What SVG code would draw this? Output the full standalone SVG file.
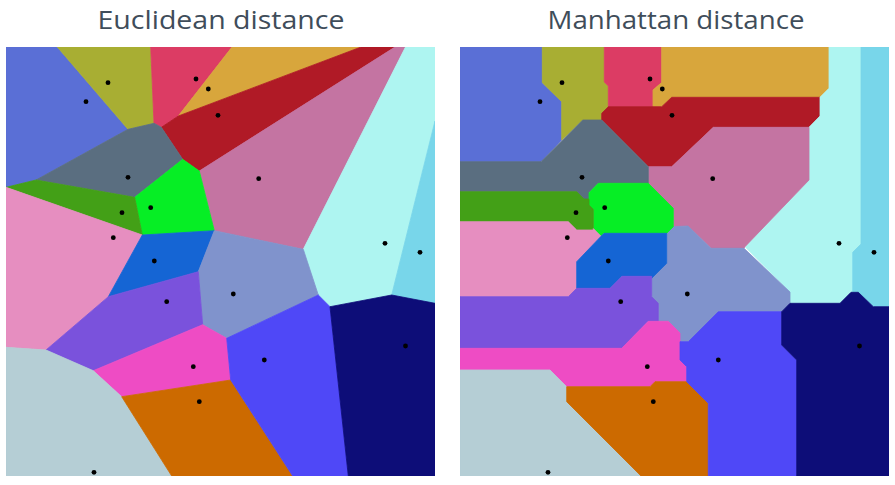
<svg xmlns="http://www.w3.org/2000/svg" width="895" height="485" viewBox="0 0 895 485">
<style>
.t{font-family:"Open Sans","Noto Sans","Liberation Sans",sans-serif;font-size:26px;fill:#3f4d5a;text-anchor:middle}
polygon{stroke-width:0.8;stroke-linejoin:round}
.c1{fill:#5a6fd6;stroke:#5a6fd6}.c2{fill:#a8ae33;stroke:#a8ae33}.c3{fill:#dc3c64;stroke:#dc3c64}
.c4{fill:#d8a63c;stroke:#d8a63c}.c5{fill:#b01a26;stroke:#b01a26}.c6{fill:#5a6e80;stroke:#5a6e80}
.c7{fill:#06ee25;stroke:#06ee25}.c8{fill:#43a017;stroke:#43a017}.c9{fill:#e68ec0;stroke:#e68ec0}
.c10{fill:#1565d4;stroke:#1565d4}.c11{fill:#c474a2;stroke:#c474a2}.c12{fill:#aef5f1;stroke:#aef5f1}
.c13{fill:#78d6ea;stroke:#78d6ea}.c14{fill:#7a52dc;stroke:#7a52dc}.c15{fill:#ee4cc4;stroke:#ee4cc4}
.c16{fill:#cc6a00;stroke:#cc6a00}.c17{fill:#b5ced5;stroke:#b5ced5}.c18{fill:#8093cc;stroke:#8093cc}
.c19{fill:#4f48f7;stroke:#4f48f7}.c20{fill:#0d0d78;stroke:#0d0d78}
circle{fill:#000}
</style>
<defs>
<clipPath id="cl"><rect x="6" y="47" width="429" height="429"/></clipPath>
<clipPath id="cr"><rect x="460" y="47" width="429" height="429"/></clipPath>
<g id="seeds">
<circle cx="108" cy="82.7" r="2.4"/><circle cx="86" cy="101.7" r="2.4"/><circle cx="196" cy="79" r="2.4"/>
<circle cx="208.3" cy="89" r="2.4"/><circle cx="218" cy="115.3" r="2.4"/><circle cx="128" cy="177.3" r="2.4"/>
<circle cx="150.7" cy="207.7" r="2.4"/><circle cx="122" cy="212.7" r="2.4"/><circle cx="113.3" cy="237.7" r="2.4"/>
<circle cx="154.3" cy="261" r="2.4"/><circle cx="258.7" cy="178.7" r="2.4"/><circle cx="385" cy="243.3" r="2.4"/>
<circle cx="420" cy="252.3" r="2.4"/><circle cx="166.7" cy="301.7" r="2.4"/><circle cx="193.3" cy="366.7" r="2.4"/>
<circle cx="199.3" cy="401.7" r="2.4"/><circle cx="94" cy="472.3" r="2.4"/><circle cx="233.3" cy="294" r="2.4"/>
<circle cx="264.3" cy="360" r="2.4"/><circle cx="405.5" cy="346" r="2.4"/>
</g>
</defs>
<text class="t" x="221" y="29" textLength="247" lengthAdjust="spacingAndGlyphs">Euclidean distance</text>
<text class="t" x="676" y="29" textLength="257" lengthAdjust="spacingAndGlyphs">Manhattan distance</text>
<g id="euclidean" clip-path="url(#cl)">
<polygon class="c1" points="6,47 57.3,47 128,129.3 36,180 6,187.3"/>
<polygon class="c2" points="57.3,47 150.7,47 154,123.3 128,129.3"/>
<polygon class="c3" points="150.7,47 232,47 178.3,116 161.3,127.3 154,123.3"/>
<polygon class="c4" points="232,47 361,47 178.3,116"/>
<polygon class="c5" points="361,47 395,47 199.3,171 182.7,159.3 161.3,127.3 178.3,116"/>
<polygon class="c11" points="395,47 405.5,47 303.3,249.3 214.3,230.7 199.3,171"/>
<polygon class="c12" points="405.5,47 435,47 435,121 391.7,295 330,306.7 318.3,295 303.3,249.3"/>
<polygon class="c13" points="435,121 435,303.3 391.7,295"/>
<polygon class="c6" points="36,180 128,129.3 154,123.3 161.3,127.3 182.7,159.3 134.7,197.3"/>
<polygon class="c7" points="182.7,159.3 199.3,171 214.3,230.7 142.3,235 134.7,197.3"/>
<polygon class="c8" points="6,187.3 36,180 134.7,197.3 142.3,235"/>
<polygon class="c9" points="6,187.3 142.3,235 108.3,296.7 46,350 6,347.3"/>
<polygon class="c10" points="142.3,235 214.3,230.7 198.3,271.7 108.3,296.7"/>
<polygon class="c18" points="214.3,230.7 303.3,249.3 318.3,295 226.7,338.3 202.7,324.7 198.3,271.7"/>
<polygon class="c14" points="108.3,296.7 198.3,271.7 202.7,324.7 93.3,370.7 46,350"/>
<polygon class="c15" points="93.3,370.7 202.7,324.7 226.7,338.3 230.7,380 121.7,396.7"/>
<polygon class="c17" points="6,347.3 46,350 93.3,370.7 121.7,396.7 171.7,476 6,476"/>
<polygon class="c16" points="121.7,396.7 230.7,380 292.7,476 171.7,476"/>
<polygon class="c19" points="226.7,338.3 318.3,295 330,306.7 348.3,476 292.7,476 230.7,380"/>
<polygon class="c20" points="330,306.7 391.7,295 435,303.3 435,476 348.3,476"/>
<use href="#seeds"/>
</g>
<g id="manhattan" clip-path="url(#cr)">
<polygon class="c1" points="460,47 542.3,47 542.3,82.7 561.7,101.7 561.7,140 541,161.7 460,161.7"/>
<polygon class="c2" points="542.3,47 604.3,47 604.3,82 608.3,86 608.3,106.7 601.7,113.3 601.7,120 582.7,120 561.7,140 561.7,101.7 542.3,82.7"/>
<polygon class="c3" points="604.3,47 661.7,47 661.7,82.5 653,90 653,106.7 608.3,106.7 608.3,86 604.3,82"/>
<polygon class="c4" points="661.7,47 829,47 829,88.3 820,97.3 671.7,97.3 661.7,106.7 653,106.7 653,90 661.7,82.5"/>
<polygon class="c5" points="608.3,106.7 661.7,106.7 671.7,97.3 820,97.3 820,116 809,127.3 713.3,127.3 671.7,166.7 648.3,166.7 601.7,120 601.7,113.3"/>
<polygon class="c12" points="829,47 861,47 861,244 852.7,252.3 852.7,292.3 851,292.3 840,303.3 790,303.3 790,292 745,246.7 809,180 809,127.3 820,116 820,97.3 829,88.3"/>
<polygon class="c13" points="861,47 889.3,47 889.3,306.7 873.3,306.7 858.3,292.3 852.7,292.3 852.7,252.3 861,244"/>
<polygon class="c11" points="671.7,166.7 713.3,127.3 809,127.3 809,180 745,246.7 744,248.3 711,248.3 688,226 673.3,226.7 673.3,208.3 648.3,183.3 648.3,166.7"/>
<polygon class="c18" points="666.7,233.3 673.3,226.7 688,226 711,248.3 744,248.3 790,292 790,303.3 781.7,311.7 718.3,311.7 688.3,341.7 680,341.7 680,333 668.3,321.3 658.3,321.3 658.3,303.3 651.7,296.7 651.7,278.3 666.7,263.3"/>
<polygon class="c6" points="460,161.7 541,161.7 582.7,120 601.7,120 648.3,166.7 648.3,183.3 598.3,183.3 589,192.7 589,199 584,199 576.7,191.7 460,191.7"/>
<polygon class="c7" points="598.3,183.3 648.3,183.3 673.3,208.3 673.3,226.7 666.7,233.3 604,233.3 601,236.3 593.3,228.6 593.3,209.3 589,205 589,192.7"/>
<polygon class="c8" points="460,191.7 576.7,191.7 584,199 589,199 589,205 593.3,209.3 593.3,230 576.7,230 568.3,221.7 460,221.7"/>
<polygon class="c9" points="460,221.7 568.3,221.7 576.7,230 593.3,230 593.3,228.6 601,236.3 576.7,261.7 576.7,288.3 568.3,296.7 460,296.7"/>
<polygon class="c10" points="604,233.3 666.7,233.3 666.7,263.3 651.7,278.3 651.7,276.3 622,276.3 610,288.3 576.7,288.3 576.7,261.7 601,236.3"/>
<polygon class="c14" points="460,296.7 568.3,296.7 576.7,288.3 610,288.3 622,276.3 651.7,276.3 651.7,296.7 658.3,303.3 658.3,321.3 648.3,321.3 621.7,348.3 460,348.3"/>
<polygon class="c15" points="460,348.3 621.7,348.3 648.3,321.3 668.3,321.3 680,333 680,360 686.7,366.7 686.7,381.7 655,381.7 650,386.7 566.7,386.7 550,370 460,370"/>
<polygon class="c17" points="460,370 550,370 566.7,386.7 566.7,401.7 641,476 460,476"/>
<polygon class="c16" points="566.7,386.7 650,386.7 655,381.7 686.7,381.7 708.3,403.3 708.3,476 641,476 566.7,401.7"/>
<polygon class="c19" points="680,341.7 688.3,341.7 718.3,311.7 781.7,311.7 781.7,345 796.7,360 796.7,476 708.3,476 708.3,403.3 686.7,381.7 686.7,366.7 680,360"/>
<polygon class="c20" points="781.7,311.7 790,303.3 840,303.3 851,292.3 858.3,292.3 873.3,306.7 889.3,306.7 889.3,476 796.7,476 796.7,360 781.7,345"/>
<use href="#seeds" x="454"/>
</g>
</svg>
